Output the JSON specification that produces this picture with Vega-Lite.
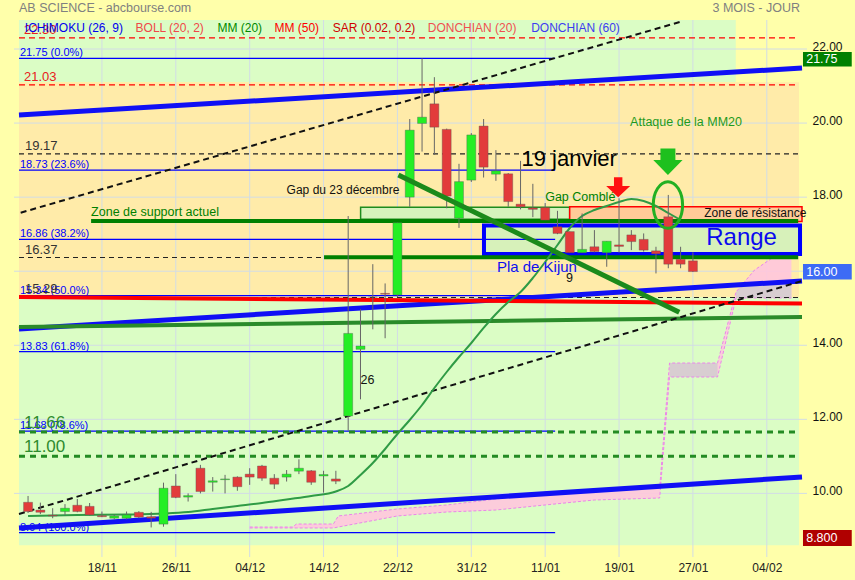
{
 "$schema": "https://vega.github.io/schema/vega-lite/v6.json",
 "width": 793,
 "height": 537,
 "autosize": "none",
 "padding": {"left": 14, "top": 20, "right": 48, "bottom": 23},
 "background": "#FFFFAA",
 "config": {"view": {"stroke": null}, "font": "Liberation Sans", "text": {"font": "Liberation Sans"}},
 "resolve": {"scale": {"color": "independent"}},
 "datasets": {
  "bands": [
   {"k": "top", "x": -6.736, "x2": 51.48, "y": 21.1, "y2": 22.784},
   {"k": "mid", "x": -6.736, "x2": 56.62, "y": 15.3, "y2": 21.1},
   {"k": "low", "x": -6.736, "x2": 56.62, "y": 8.6, "y2": 15.3}
  ],
  "gridv": [{"x": 0}, {"x": 6}, {"x": 12}, {"x": 18}, {"x": 24}, {"x": 30}, {"x": 36}, {"x": 42}, {"x": 48}, {"x": 54}],
  "gridh": [{"y": 10}, {"y": 12}, {"y": 14}, {"y": 16}, {"y": 18}, {"y": 20}, {"y": 22}],
  "kumo": [
   {"x": 12, "a": 9.092, "b": 9.066}, {"x": 15.5, "a": 9.092, "b": 9.066}, {"x": 15.8, "a": 9.173, "b": 9.066},
   {"x": 18.8, "a": 9.173, "b": 9.066}, {"x": 19.2, "a": 9.39, "b": 9.092}, {"x": 24, "a": 9.579, "b": 9.39},
   {"x": 28, "a": 9.687, "b": 9.497}, {"x": 32, "a": 9.849, "b": 9.551}, {"x": 36, "a": 9.983, "b": 9.687},
   {"x": 40, "a": 10.09, "b": 9.821}, {"x": 45.3, "a": 10.146, "b": 9.875}, {"x": 46.1, "a": 13.521, "b": 13.143},
   {"x": 50, "a": 13.521, "b": 13.143}, {"x": 51.5, "a": 15.439, "b": 15.277}, {"x": 53, "a": 16.03, "b": 15.277},
   {"x": 56, "a": 16.708, "b": 15.277}
  ],
  "kumogray": [
   {"s": "1", "x": 46.1, "a": 13.521, "b": 13.143}, {"s": "1", "x": 50, "a": 13.521, "b": 13.143},
   {"s": "2", "x": 51.5, "a": 15.439, "b": 15.277}, {"s": "2", "x": 52.3, "a": 15.709, "b": 15.277},
   {"s": "2", "x": 56, "a": 15.709, "b": 15.277}
  ],
  "hl": [
   {"kind": "fib", "y": 21.75, "x": -6.736, "x2": 36.81, "lab": "21.75  (0.0%)"},
   {"kind": "fib", "y": 18.73, "x": -6.736, "x2": 36.81, "lab": "18.73  (23.6%)"},
   {"kind": "fib", "y": 16.86, "x": -6.736, "x2": 36.81, "lab": "16.86  (38.2%)"},
   {"kind": "fib", "y": 15.34, "x": -6.736, "x2": 36.81, "lab": "15.34  (50.0%)"},
   {"kind": "fib", "y": 13.83, "x": -6.736, "x2": 36.81, "lab": "13.83  (61.8%)"},
   {"kind": "fib", "y": 11.68, "x": -6.736, "x2": 36.81, "lab": "11.68  (78.6%)"},
   {"kind": "fib", "y": 8.94, "x": -6.736, "x2": 36.81, "lab": "8.94  (100.0%)"},
   {"kind": "bdash", "y": 19.17, "x": -6.736, "x2": 56.7, "lab": "19.17"},
   {"kind": "bdash", "y": 16.37, "x": -6.736, "x2": 56.7, "lab": "16.37"},
   {"kind": "bdash", "y": 15.29, "x": -6.736, "x2": 56.7, "lab": "15.29"},
   {"kind": "rdash", "y": 22.3, "x": -6.736, "x2": 56.43, "lab": "22.30"},
   {"kind": "rdash", "y": 21.03, "x": -6.736, "x2": 56.43, "lab": "21.03"},
   {"kind": "gdash", "y": 11.66, "x": -6.736, "x2": 56.43, "lab": "11.66"},
   {"kind": "gdash", "y": 11.0, "x": -6.736, "x2": 56.43, "lab": "11.00"},
   {"kind": "supp", "y": 17.356, "x": -0.88, "x2": 56.55, "lab": ""},
   {"kind": "supp", "y": 16.38, "x": 18.04, "x2": 56.55, "lab": ""}
  ],
  "trend": [
   {"kind": "blue", "x": -6.736, "y": 20.218, "x2": 56.86, "y2": 21.488},
   {"kind": "blue", "x": -6.736, "y": 14.439, "x2": 56.86, "y2": 15.736},
   {"kind": "blue", "x": -6.736, "y": 9.066, "x2": 56.86, "y2": 10.443},
   {"kind": "red", "x": -6.736, "y": 15.304, "x2": 56.86, "y2": 15.128},
   {"kind": "green", "x": -6.736, "y": 14.493, "x2": 56.86, "y2": 14.763},
   {"kind": "bdash", "x": -6.6, "y": 17.58, "x2": 47.21, "y2": 22.757},
   {"kind": "bdash", "x": -6.736, "y": 9.444, "x2": 56.86, "y2": 15.736},
   {"kind": "dgreen", "x": 24.08, "y": 18.598, "x2": 46.89, "y2": 14.89}
  ],
  "boxes": [
   {"kind": "gap", "x": 21.01, "x2": 37.99, "y": 17.402, "y2": 17.726},
   {"kind": "res", "x": 37.99, "x2": 56.86, "y": 17.34, "y2": 17.74},
   {"kind": "range", "x": 31.03, "x2": 56.7, "y": 16.465, "y2": 17.234}
  ],
  "mm20": [
   {"x": -6, "y": 9.39}, {"x": -2, "y": 9.416}, {"x": 2, "y": 9.43}, {"x": 5, "y": 9.457}, {"x": 7, "y": 9.497},
   {"x": 9, "y": 9.578}, {"x": 11, "y": 9.659}, {"x": 13, "y": 9.74}, {"x": 15, "y": 9.835}, {"x": 17, "y": 9.929},
   {"x": 19, "y": 10.05}, {"x": 20, "y": 10.199}, {"x": 21, "y": 10.497}, {"x": 22, "y": 10.821}, {"x": 23, "y": 11.199},
   {"x": 24, "y": 11.604}, {"x": 25, "y": 11.982}, {"x": 26, "y": 12.387}, {"x": 27, "y": 12.846}, {"x": 28, "y": 13.278},
   {"x": 29, "y": 13.683}, {"x": 30, "y": 14.061}, {"x": 31, "y": 14.467}, {"x": 32, "y": 14.845}, {"x": 33, "y": 15.168},
   {"x": 34, "y": 15.438}, {"x": 35, "y": 15.817}, {"x": 36, "y": 16.249}, {"x": 37, "y": 16.708}, {"x": 38, "y": 17.167},
   {"x": 39, "y": 17.491}, {"x": 40, "y": 17.653}, {"x": 41, "y": 17.761}, {"x": 42, "y": 17.869}, {"x": 43, "y": 17.95},
   {"x": 44, "y": 17.896}, {"x": 45, "y": 17.761}, {"x": 46, "y": 17.572}, {"x": 47, "y": 17.383}
  ],
  "candles": [
   {"i": -6, "o": 9.76, "h": 9.93, "l": 9.47, "c": 9.51},
   {"i": -5, "o": 9.55, "h": 9.75, "l": 9.44, "c": 9.49},
   {"i": -4, "o": 9.41, "h": 9.6, "l": 9.33, "c": 9.39},
   {"i": -3, "o": 9.51, "h": 9.71, "l": 9.42, "c": 9.6},
   {"i": -2, "o": 9.68, "h": 9.85, "l": 9.49, "c": 9.51},
   {"i": -1, "o": 9.65, "h": 9.74, "l": 9.4, "c": 9.42},
   {"i": 0, "o": 9.4, "h": 9.51, "l": 9.36, "c": 9.37},
   {"i": 1, "o": 9.33, "h": 9.42, "l": 9.3, "c": 9.39},
   {"i": 2, "o": 9.33, "h": 9.51, "l": 9.3, "c": 9.42},
   {"i": 3, "o": 9.49, "h": 9.52, "l": 9.33, "c": 9.36},
   {"i": 4, "o": 9.37, "h": 9.5, "l": 9.08, "c": 9.33},
   {"i": 5, "o": 9.17, "h": 10.29, "l": 9.1, "c": 10.14},
   {"i": 6, "o": 10.2, "h": 10.52, "l": 9.87, "c": 9.89},
   {"i": 7, "o": 9.9, "h": 10.0, "l": 9.78, "c": 9.94},
   {"i": 8, "o": 10.68, "h": 10.77, "l": 10.0, "c": 10.05},
   {"i": 9, "o": 10.3, "h": 10.44, "l": 10.05, "c": 10.34},
   {"i": 10, "o": 10.37, "h": 10.5, "l": 10.0, "c": 10.39},
   {"i": 11, "o": 10.44, "h": 10.46, "l": 10.07, "c": 10.18},
   {"i": 12, "o": 10.52, "h": 10.68, "l": 10.23, "c": 10.44},
   {"i": 13, "o": 10.74, "h": 10.77, "l": 10.34, "c": 10.41},
   {"i": 14, "o": 10.41, "h": 10.52, "l": 10.12, "c": 10.25},
   {"i": 15, "o": 10.44, "h": 10.63, "l": 10.32, "c": 10.52},
   {"i": 16, "o": 10.6, "h": 10.92, "l": 10.52, "c": 10.68},
   {"i": 17, "o": 10.61, "h": 10.63, "l": 10.23, "c": 10.3},
   {"i": 18, "o": 10.47, "h": 10.61, "l": 10.02, "c": 10.51},
   {"i": 19, "o": 10.39, "h": 10.61, "l": 10.25, "c": 10.33},
   {"i": 20, "o": 12.09, "h": 17.49, "l": 11.69, "c": 14.32},
   {"i": 21, "o": 13.89, "h": 14.97, "l": 12.54, "c": 13.98},
   {"i": 22, "o": 15.3, "h": 16.19, "l": 14.43, "c": 15.3},
   {"i": 23, "o": 15.4, "h": 15.67, "l": 14.19, "c": 15.38},
   {"i": 24, "o": 15.36, "h": 17.31, "l": 15.3, "c": 17.31},
   {"i": 25, "o": 18.0, "h": 20.11, "l": 17.74, "c": 19.81},
   {"i": 26, "o": 19.99, "h": 21.75, "l": 19.23, "c": 20.16},
   {"i": 27, "o": 20.52, "h": 21.24, "l": 19.14, "c": 19.89},
   {"i": 28, "o": 19.83, "h": 19.85, "l": 17.7, "c": 18.03},
   {"i": 29, "o": 17.43, "h": 18.9, "l": 17.17, "c": 18.42},
   {"i": 30, "o": 18.46, "h": 19.73, "l": 18.41, "c": 19.68},
   {"i": 31, "o": 19.92, "h": 20.11, "l": 18.53, "c": 18.81},
   {"i": 32, "o": 18.62, "h": 19.27, "l": 18.44, "c": 18.71},
   {"i": 33, "o": 18.63, "h": 18.65, "l": 17.74, "c": 17.88},
   {"i": 34, "o": 17.81, "h": 18.98, "l": 17.67, "c": 17.74},
   {"i": 35, "o": 17.71, "h": 18.36, "l": 17.46, "c": 17.67},
   {"i": 36, "o": 17.72, "h": 17.84, "l": 17.38, "c": 17.38},
   {"i": 37, "o": 17.2, "h": 17.63, "l": 17.0, "c": 17.02},
   {"i": 38, "o": 17.07, "h": 17.07, "l": 16.5, "c": 16.5},
   {"i": 39, "o": 16.5, "h": 17.56, "l": 16.5, "c": 16.59},
   {"i": 40, "o": 16.66, "h": 17.11, "l": 16.51, "c": 16.53},
   {"i": 41, "o": 16.5, "h": 16.81, "l": 16.12, "c": 16.81},
   {"i": 42, "o": 16.71, "h": 17.97, "l": 16.5, "c": 16.67},
   {"i": 43, "o": 16.98, "h": 17.11, "l": 16.57, "c": 16.8},
   {"i": 44, "o": 16.86, "h": 17.02, "l": 16.53, "c": 16.57},
   {"i": 45, "o": 16.55, "h": 16.66, "l": 15.94, "c": 16.47},
   {"i": 46, "o": 17.47, "h": 18.06, "l": 16.08, "c": 16.19},
   {"i": 47, "o": 16.32, "h": 16.66, "l": 16.08, "c": 16.19},
   {"i": 48, "o": 16.28, "h": 16.51, "l": 15.98, "c": 15.99}
  ]
 },
 "layer": [
  {
   "data": {"name": "bands"},
   "mark": {"type": "rect"},
   "encoding": {
    "x": {"field": "x", "type": "quantitative", "scale": {"domain": [-6.736, 56.86], "nice": false, "zero": false},
     "axis": {"orient": "bottom", "values": [0, 6, 12, 18, 24, 30, 36, 42, 48, 54], "labelExpr": "['18/11','26/11','04/12','14/12','22/12','31/12','11/01','19/01','27/01','04/02'][round(datum.value/6)]", "grid": false, "domain": false, "ticks": false, "labelFontSize": 12, "labelColor": "#222222", "labelPadding": 5, "title": null, "zindex": 0}},
    "x2": {"field": "x2"},
    "y": {"field": "y", "type": "quantitative", "scale": {"domain": [8.282, 22.784], "nice": false, "zero": false},
     "axis": {"orient": "right", "values": [10, 12, 14, 18, 20, 22], "format": ".2f", "grid": false, "domain": false, "ticks": false, "labelFontSize": 12, "labelColor": "#111111", "labelPadding": 5, "labelOffset": -3, "title": null, "zindex": 0}},
    "y2": {"field": "y2"},
    "color": {"field": "k", "type": "nominal", "scale": {"domain": ["top", "mid", "low"], "range": ["#DBFDC5", "#FFEBA9", "#DBFDC5"]}, "legend": null}
   }
  },
  {
   "data": {"name": "gridv"},
   "mark": {"type": "rule", "color": "#D2DCE6", "strokeWidth": 1},
   "encoding": {"x": {"field": "x", "type": "quantitative"}}
  },
  {
   "data": {"name": "gridh"},
   "mark": {"type": "rule", "color": "#D2DCE6", "strokeWidth": 1},
   "encoding": {"y": {"field": "y", "type": "quantitative"}}
  },
  {
   "data": {"name": "kumo"},
   "mark": {"type": "area", "color": "#FFC6DD", "opacity": 0.9},
   "encoding": {"x": {"field": "x", "type": "quantitative"}, "y": {"field": "a", "type": "quantitative"}, "y2": {"field": "b"}}
  },
  {
   "data": {"name": "kumogray"},
   "mark": {"type": "area", "color": "#D8CDD1", "opacity": 1},
   "encoding": {"x": {"field": "x", "type": "quantitative"}, "y": {"field": "a", "type": "quantitative"}, "y2": {"field": "b"}, "detail": {"field": "s"}}
  },
  {
   "data": {"name": "kumo"},
   "mark": {"type": "line", "color": "#EA86EA", "strokeWidth": 1, "strokeDash": [3, 2]},
   "encoding": {"x": {"field": "x", "type": "quantitative"}, "y": {"field": "a", "type": "quantitative"}}
  },
  {
   "data": {"name": "kumo"},
   "mark": {"type": "line", "color": "#EA86EA", "strokeWidth": 1, "strokeDash": [3, 2]},
   "encoding": {"x": {"field": "x", "type": "quantitative"}, "y": {"field": "b", "type": "quantitative"}}
  },
  {
   "data": {"name": "boxes"},
   "transform": [{"filter": "datum.kind == 'gap'"}],
   "mark": {"type": "rect", "fill": "#D6F3BC", "stroke": "#1E8C1E", "strokeWidth": 1.5},
   "encoding": {"x": {"field": "x", "type": "quantitative"}, "x2": {"field": "x2"}, "y": {"field": "y", "type": "quantitative"}, "y2": {"field": "y2"}}
  },
  {
   "data": {"name": "boxes"},
   "transform": [{"filter": "datum.kind == 'res'"}],
   "mark": {"type": "rect", "fill": "#FFCB98", "stroke": "#FF0000", "strokeWidth": 1.5},
   "encoding": {"x": {"field": "x", "type": "quantitative"}, "x2": {"field": "x2"}, "y": {"field": "y", "type": "quantitative"}, "y2": {"field": "y2"}}
  },
  {
   "data": {"name": "boxes"},
   "transform": [{"filter": "datum.kind == 'range'"}],
   "mark": {"type": "rect", "fill": "#D7F1BA", "stroke": "#0000FF", "strokeWidth": 4},
   "encoding": {"x": {"field": "x", "type": "quantitative"}, "x2": {"field": "x2"}, "y": {"field": "y", "type": "quantitative"}, "y2": {"field": "y2"}}
  },
  {
   "data": {"name": "hl"},
   "transform": [{"filter": "datum.kind == 'fib'"}],
   "mark": {"type": "rule", "color": "#0000FF", "strokeWidth": 1.3},
   "encoding": {"x": {"field": "x", "type": "quantitative"}, "x2": {"field": "x2"}, "y": {"field": "y", "type": "quantitative"}}
  },
  {
   "data": {"name": "hl"},
   "transform": [{"filter": "datum.kind == 'bdash'"}],
   "mark": {"type": "rule", "color": "#222222", "strokeWidth": 1.2, "strokeDash": [5, 4]},
   "encoding": {"x": {"field": "x", "type": "quantitative"}, "x2": {"field": "x2"}, "y": {"field": "y", "type": "quantitative"}}
  },
  {
   "data": {"name": "hl"},
   "transform": [{"filter": "datum.kind == 'rdash'"}],
   "mark": {"type": "rule", "color": "#FF0000", "strokeWidth": 1.2, "strokeDash": [6, 4]},
   "encoding": {"x": {"field": "x", "type": "quantitative"}, "x2": {"field": "x2"}, "y": {"field": "y", "type": "quantitative"}}
  },
  {
   "data": {"name": "hl"},
   "transform": [{"filter": "datum.kind == 'gdash'"}],
   "mark": {"type": "rule", "color": "#238B23", "strokeWidth": 3, "strokeDash": [6, 5]},
   "encoding": {"x": {"field": "x", "type": "quantitative"}, "x2": {"field": "x2"}, "y": {"field": "y", "type": "quantitative"}}
  },
  {
   "data": {"name": "hl"},
   "transform": [{"filter": "datum.kind == 'supp'"}],
   "mark": {"type": "rule", "color": "#008000", "strokeWidth": 4},
   "encoding": {"x": {"field": "x", "type": "quantitative"}, "x2": {"field": "x2"}, "y": {"field": "y", "type": "quantitative"}}
  },
  {
   "data": {"name": "hl"},
   "transform": [{"filter": "datum.kind == 'fib'"}],
   "mark": {"type": "text", "align": "left", "baseline": "bottom", "dx": 1, "dy": 0, "fontSize": 11, "color": "#0000FF"},
   "encoding": {"x": {"field": "x", "type": "quantitative"}, "y": {"field": "y", "type": "quantitative"}, "text": {"field": "lab"}}
  },
  {
   "data": {"name": "hl"},
   "transform": [{"filter": "datum.kind == 'bdash'"}],
   "mark": {"type": "text", "align": "left", "baseline": "bottom", "dx": 6, "dy": -1, "fontSize": 13, "color": "#333333"},
   "encoding": {"x": {"field": "x", "type": "quantitative"}, "y": {"field": "y", "type": "quantitative"}, "text": {"field": "lab"}}
  },
  {
   "data": {"name": "hl"},
   "transform": [{"filter": "datum.kind == 'rdash'"}],
   "mark": {"type": "text", "align": "left", "baseline": "bottom", "dx": 5, "dy": -1, "fontSize": 13, "color": "#E82020"},
   "encoding": {"x": {"field": "x", "type": "quantitative"}, "y": {"field": "y", "type": "quantitative"}, "text": {"field": "lab"}}
  },
  {
   "data": {"name": "hl"},
   "transform": [{"filter": "datum.kind == 'gdash'"}],
   "mark": {"type": "text", "align": "left", "baseline": "bottom", "dx": 5, "dy": 0, "fontSize": 17, "color": "#2E8B2E"},
   "encoding": {"x": {"field": "x", "type": "quantitative"}, "y": {"field": "y", "type": "quantitative"}, "text": {"field": "lab"}}
  },
  {
   "data": {"name": "trend"},
   "transform": [{"filter": "datum.kind == 'blue'"}],
   "mark": {"type": "rule", "color": "#1010F5", "strokeWidth": 5},
   "encoding": {"x": {"field": "x", "type": "quantitative"}, "x2": {"field": "x2"}, "y": {"field": "y", "type": "quantitative"}, "y2": {"field": "y2"}}
  },
  {
   "data": {"name": "trend"},
   "transform": [{"filter": "datum.kind == 'red'"}],
   "mark": {"type": "rule", "color": "#FF0000", "strokeWidth": 4},
   "encoding": {"x": {"field": "x", "type": "quantitative"}, "x2": {"field": "x2"}, "y": {"field": "y", "type": "quantitative"}, "y2": {"field": "y2"}}
  },
  {
   "data": {"name": "trend"},
   "transform": [{"filter": "datum.kind == 'green'"}],
   "mark": {"type": "rule", "color": "#2A8B2A", "strokeWidth": 4},
   "encoding": {"x": {"field": "x", "type": "quantitative"}, "x2": {"field": "x2"}, "y": {"field": "y", "type": "quantitative"}, "y2": {"field": "y2"}}
  },
  {
   "data": {"name": "trend"},
   "transform": [{"filter": "datum.kind == 'bdash'"}],
   "mark": {"type": "rule", "color": "#111111", "strokeWidth": 2, "strokeDash": [6, 4]},
   "encoding": {"x": {"field": "x", "type": "quantitative"}, "x2": {"field": "x2"}, "y": {"field": "y", "type": "quantitative"}, "y2": {"field": "y2"}}
  },
  {
   "data": {"name": "mm20"},
   "mark": {"type": "line", "color": "#2F9B45", "strokeWidth": 2, "interpolate": "monotone"},
   "encoding": {"x": {"field": "x", "type": "quantitative"}, "y": {"field": "y", "type": "quantitative"}}
  },
  {
   "data": {"name": "candles"},
   "mark": {"type": "rule", "color": "#666666", "strokeWidth": 1},
   "encoding": {"x": {"field": "i", "type": "quantitative"}, "y": {"field": "l", "type": "quantitative"}, "y2": {"field": "h"}}
  },
  {
   "data": {"name": "candles"},
   "mark": {"type": "bar", "size": 9, "stroke": "#555555", "strokeWidth": 0.6, "strokeOpacity": 0.6},
   "encoding": {
    "x": {"field": "i", "type": "quantitative", "scale": {"domain": [-6.736, 56.86], "nice": false, "zero": false}},
    "y": {"field": "o", "type": "quantitative", "scale": {"domain": [8.282, 22.784], "nice": false, "zero": false}},
    "y2": {"field": "c"},
    "color": {"condition": {"test": "datum.c >= datum.o", "value": "#25EE25"}, "value": "#E23B3B"}
   }
  },
  {
   "data": {"name": "trend"},
   "transform": [{"filter": "datum.kind == 'dgreen'"}],
   "mark": {"type": "rule", "color": "#1B8A1B", "strokeWidth": 5},
   "encoding": {"x": {"field": "x", "type": "quantitative"}, "x2": {"field": "x2"}, "y": {"field": "y", "type": "quantitative"}, "y2": {"field": "y2"}}
  },
  {
   "data": {"values": [{"x": 15.0, "y": 18.19, "t": "Gap du 23 décembre"}, {"x": 48.92, "y": 17.572, "t": "Zone de résistance"}]},
   "mark": {"type": "text", "align": "left", "baseline": "middle", "fontSize": 12, "color": "#111111", "clip": true},
   "encoding": {"x": {"field": "x", "type": "quantitative"}, "y": {"field": "y", "type": "quantitative"}, "text": {"field": "t"}}
  },
  {
   "data": {"values": [{"x": -0.88, "y": 17.6, "t": "Zone de support actuel"}, {"x": 36.0, "y": 18.004, "t": "Gap Comblé"}]},
   "mark": {"type": "text", "align": "left", "baseline": "middle", "fontSize": 12.5, "color": "#008000"},
   "encoding": {"x": {"field": "x", "type": "quantitative"}, "y": {"field": "y", "type": "quantitative"}, "text": {"field": "t"}}
  },
  {
   "data": {"values": [{"x": 42.9, "y": 20.03, "t": "Attaque de la MM20"}]},
   "mark": {"type": "text", "align": "left", "baseline": "middle", "fontSize": 12.5, "color": "#1E9A1E"},
   "encoding": {"x": {"field": "x", "type": "quantitative"}, "y": {"field": "y", "type": "quantitative"}, "text": {"field": "t"}}
  },
  {
   "data": {"values": [{"x": 34.08, "y": 19.03, "t": "19 janvier"}]},
   "mark": {"type": "text", "align": "left", "baseline": "middle", "fontSize": 22, "color": "#000000"},
   "encoding": {"x": {"field": "x", "type": "quantitative"}, "y": {"field": "y", "type": "quantitative"}, "text": {"field": "t"}}
  },
  {
   "data": {"values": [{"x": 49.08, "y": 16.897, "t": "Range"}]},
   "mark": {"type": "text", "align": "left", "baseline": "middle", "fontSize": 24, "color": "#0A0AF0"},
   "encoding": {"x": {"field": "x", "type": "quantitative"}, "y": {"field": "y", "type": "quantitative"}, "text": {"field": "t"}}
  },
  {
   "data": {"values": [{"x": 32.08, "y": 16.114, "t": "Pla de Kijun"}]},
   "mark": {"type": "text", "align": "left", "baseline": "middle", "fontSize": 15, "color": "#1010EE"},
   "encoding": {"x": {"field": "x", "type": "quantitative"}, "y": {"field": "y", "type": "quantitative"}, "text": {"field": "t"}}
  },
  {
   "data": {"values": [{"x": 37.7, "y": 15.817, "t": "9"}, {"x": 21.01, "y": 13.062, "t": "26"}]},
   "mark": {"type": "text", "align": "left", "baseline": "middle", "fontSize": 12.5, "color": "#111111"},
   "encoding": {"x": {"field": "x", "type": "quantitative"}, "y": {"field": "y", "type": "quantitative"}, "text": {"field": "t"}}
  },
  {
   "data": {"values": [{"x": 41.93, "y": 18.266}]},
   "mark": {"type": "point", "filled": true, "opacity": 1, "size": 576, "color": "#FF1010", "strokeWidth": 0, "shape": "M-0.35,-0.83L0.35,-0.83L0.35,-0.11L1,-0.11L0,0.83L-1,-0.11L-0.35,-0.11Z"},
   "encoding": {"x": {"field": "x", "type": "quantitative"}, "y": {"field": "y", "type": "quantitative"}}
  },
  {
   "data": {"values": [{"x": 45.97, "y": 18.957}]},
   "mark": {"type": "point", "filled": true, "opacity": 1, "size": 858, "color": "#1EC01E", "strokeWidth": 0, "shape": "M-0.51,-0.91L0.51,-0.91L0.51,-0.11L1,-0.11L0,0.91L-1,-0.11L-0.51,-0.11Z"},
   "encoding": {"x": {"field": "x", "type": "quantitative"}, "y": {"field": "y", "type": "quantitative"}}
  },
  {
   "data": {"values": [{"x": 45.97, "y": 17.788}]},
   "mark": {"type": "point", "filled": false, "opacity": 1, "size": 2172, "color": "#22B022", "strokeWidth": 3, "shape": "M0,-1C0.348,-1 0.63,-0.552 0.63,0C0.63,0.552 0.348,1 0,1C-0.348,1 -0.63,0.552 -0.63,0C-0.63,-0.552 -0.348,-1 0,-1Z"},
   "encoding": {"x": {"field": "x", "type": "quantitative"}, "y": {"field": "y", "type": "quantitative"}}
  },
  {
   "data": {"values": [
    {"k": "a", "x": 56.94, "x2": 60.9, "y": 21.53, "y2": 21.92},
    {"k": "b", "x": 56.94, "x2": 60.9, "y": 15.776, "y2": 16.195},
    {"k": "c", "x": 56.94, "x2": 60.9, "y": 8.579, "y2": 9.011}
   ]},
   "mark": {"type": "rect"},
   "encoding": {
    "x": {"field": "x", "type": "quantitative"}, "x2": {"field": "x2"},
    "y": {"field": "y", "type": "quantitative"}, "y2": {"field": "y2"},
    "color": {"field": "k", "type": "nominal", "scale": {"domain": ["a", "b", "c"], "range": ["#008000", "#3D6BF5", "#B00000"]}, "legend": null}
   }
  },
  {
   "data": {"values": [{"x": 57.2, "y": 21.725, "t": "21.75"}, {"x": 57.2, "y": 15.986, "t": "16.00"}, {"x": 57.2, "y": 8.795, "t": "8.800"}]},
   "mark": {"type": "text", "align": "left", "baseline": "middle", "fontSize": 12.5, "color": "#FFFFFF"},
   "encoding": {"x": {"field": "x", "type": "quantitative"}, "y": {"field": "y", "type": "quantitative"}, "text": {"field": "t"}}
  },
  {
   "data": {"values": [{"x": -6.736, "y": 23.108, "t": "AB SCIENCE - abcbourse.com"}]},
   "mark": {"type": "text", "align": "left", "baseline": "middle", "fontSize": 12.5, "color": "#808080"},
   "encoding": {"x": {"field": "x", "type": "quantitative"}, "y": {"field": "y", "type": "quantitative"}, "text": {"field": "t"}}
  },
  {
   "data": {"values": [{"x": 56.7, "y": 23.108, "t": "3 MOIS - JOUR"}]},
   "mark": {"type": "text", "align": "right", "baseline": "middle", "fontSize": 12.5, "color": "#808080"},
   "encoding": {"x": {"field": "x", "type": "quantitative"}, "y": {"field": "y", "type": "quantitative"}, "text": {"field": "t"}}
  },
  {
   "data": {"values": [
    {"t": "ICHIMOKU (26, 9)", "x": -6.26, "y": 22.568},
    {"t": "BOLL (20, 2)", "x": 2.73, "y": 22.568},
    {"t": "MM (20)", "x": 9.38, "y": 22.568},
    {"t": "MM (50)", "x": 14.01, "y": 22.568},
    {"t": "SAR (0.02, 0.2)", "x": 18.74, "y": 22.568},
    {"t": "DONCHIAN (20)", "x": 26.46, "y": 22.568},
    {"t": "DONCHIAN (60)", "x": 34.86, "y": 22.568}
   ]},
   "mark": {"type": "text", "align": "left", "baseline": "middle", "fontSize": 12},
   "encoding": {
    "x": {"field": "x", "type": "quantitative"},
    "y": {"field": "y", "type": "quantitative"},
    "text": {"field": "t"},
    "color": {"field": "t", "type": "nominal", "scale": {"domain": ["ICHIMOKU (26, 9)", "BOLL (20, 2)", "MM (20)", "MM (50)", "SAR (0.02, 0.2)", "DONCHIAN (20)", "DONCHIAN (60)"], "range": ["#0000EE", "#F04848", "#008800", "#FF0000", "#D00000", "#F05050", "#3C3CF0"]}, "legend": null}
   }
  }
 ]
}
